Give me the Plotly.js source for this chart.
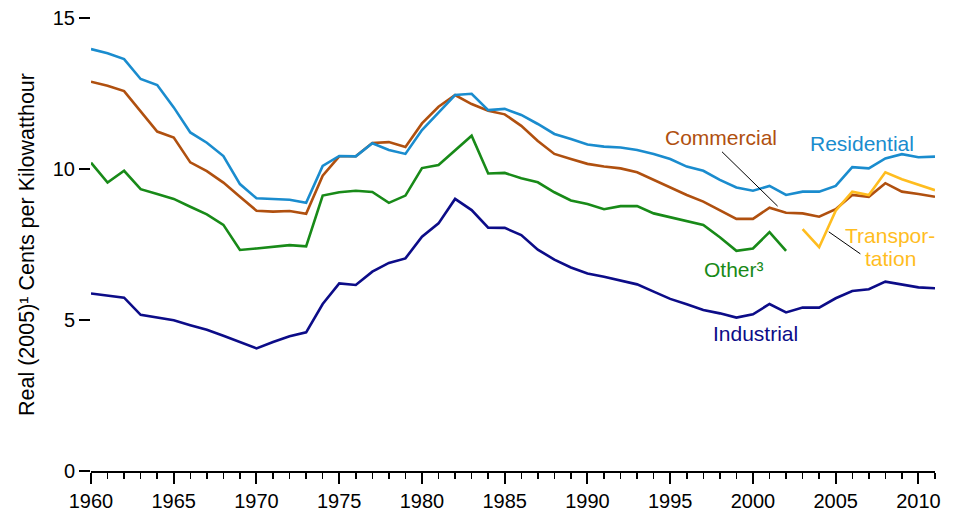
<!DOCTYPE html>
<html>
<head>
<meta charset="utf-8">
<script src="https://cdn.plot.ly/plotly-3.0.1.min.js"></script>
<style>html,body{margin:0;padding:0;background:#fff;}#chart{width:961px;height:513px;}</style>
</head>
<body>
<div id="chart"></div>
<script>
// Years
const years = [];
for (let y = 1960; y <= 2011; y++) years.push(y);

const residential = [13.97,13.83,13.64,12.98,12.78,12.04,11.21,10.87,10.43,9.50,
  9.03,9.00,8.98,8.88,10.10,10.43,10.42,10.85,10.63,10.50,
  11.29,11.87,12.45,12.49,11.95,11.99,11.79,11.49,11.16,10.99,
  10.81,10.74,10.71,10.63,10.50,10.33,10.08,9.94,9.64,9.39,
  9.28,9.44,9.14,9.25,9.25,9.44,10.06,10.02,10.35,10.49,10.39,10.41];

const commercial = [12.89,12.76,12.58,11.92,11.24,11.04,10.22,9.93,9.55,9.08,
  8.62,8.59,8.61,8.52,9.78,10.42,10.42,10.86,10.89,10.73,
  11.51,12.06,12.45,12.15,11.93,11.81,11.43,10.93,10.50,10.33,
  10.17,10.08,10.02,9.89,9.64,9.38,9.14,8.92,8.64,8.35,
  8.35,8.72,8.55,8.53,8.42,8.67,9.14,9.08,9.53,9.25,9.17,9.08];

const other = [10.21,9.55,9.94,9.33,9.17,9.01,8.75,8.50,8.15,7.32,
  7.37,7.42,7.48,7.44,9.12,9.23,9.28,9.24,8.88,9.12,
  10.03,10.13,10.63,11.10,9.85,9.87,9.69,9.56,9.23,8.96,
  8.84,8.67,8.77,8.77,8.53,8.40,8.28,8.15,7.74,7.29,
  7.37,7.91,7.29,null,null,null,null,null,null,null,null,null];

const industrial = [5.88,5.82,5.74,5.17,5.08,4.99,4.83,4.68,4.48,4.27,
  4.06,4.27,4.46,4.59,5.53,6.21,6.16,6.60,6.89,7.04,
  7.76,8.20,9.01,8.64,8.06,8.05,7.81,7.33,7.00,6.74,
  6.54,6.43,6.30,6.18,5.94,5.70,5.52,5.33,5.22,5.08,
  5.19,5.53,5.25,5.41,5.41,5.72,5.96,6.02,6.27,6.18,6.08,6.05];

const transportation = [null,null,null,null,null,null,null,null,null,null,
  null,null,null,null,null,null,null,null,null,null,
  null,null,null,null,null,null,null,null,null,null,
  null,null,null,null,null,null,null,null,null,null,
  null,null,null,8.01,7.41,8.62,9.25,9.14,9.89,9.66,9.49,9.30];

const colors = {
  Residential: "#1a8cce",
  Commercial: "#b0500f",
  Other: "#188a18",
  Industrial: "#0c0c88",
  Transportation: "#ffbd1f"
};

const font = "Liberation Sans, Arial, Helvetica, sans-serif";

function tr(y, name, color) {
  return {x: years, y: y, name: name, type: "scatter", mode: "lines",
    line: {color: color, width: 2.6}, connectgaps: false, hoverinfo: "x+y"};
}

const data = [
  tr(industrial, "Industrial", colors.Industrial),
  tr(other, "Other³", colors.Other),
  tr(commercial, "Commercial", colors.Commercial),
  tr(residential, "Residential", colors.Residential),
  tr(transportation, "Transportation", colors.Transportation)
];

const annFont = (c) => ({family: font, size: 21, color: c});

const layout = {
  width: 961, height: 513,
  margin: {l: 91, r: 26, t: 18, b: 42},
  paper_bgcolor: "#fff", plot_bgcolor: "#fff",
  showlegend: false,
  font: {family: font, size: 20, color: "#000"},
  xaxis: {
    range: [1960, 2011], showgrid: false, zeroline: false,
    showline: true, linecolor: "#000", linewidth: 2,
    ticks: "outside", ticklen: 11, tickwidth: 2, tickcolor: "#000",
    tick0: 1960, dtick: 5,
    minor: {dtick: 1, ticks: "outside", ticklen: 6, tickwidth: 1.5, tickcolor: "#000", showgrid: false},
    tickfont: {family: font, size: 20, color: "#000"}
  },
  yaxis: {
    range: [0, 15], showgrid: false, zeroline: false, showline: false,
    ticks: "outside", ticklen: 11, tickwidth: 2, tickcolor: "#000",
    tickvals: [0, 5, 10, 15], ticktext: ["0", "5", "10", "15"],
    tickfont: {family: font, size: 20, color: "#000"},
    title: {text: "Real (2005)¹ Cents per Kilowatthour", font: {family: font, size: 21.5, color: "#000"}, standoff: 12}
  },
  annotations: [
    {x: 2006.58, y: 10.83, text: "Residential", showarrow: false, font: annFont(colors.Residential)},
    {x: 1998.09, y: 11.03, text: "Commercial", showarrow: false, font: annFont(colors.Commercial)},
    {x: 1998.88, y: 6.66, text: "Other³", showarrow: false, font: annFont(colors.Other)},
    {x: 2000.15, y: 4.54, text: "Industrial", showarrow: false, font: annFont(colors.Industrial)},
    {x: 2008.3, y: 7.8, text: "Transpor-", showarrow: false, font: annFont(colors.Transportation)},
    {x: 2008.3, y: 7.05, text: "tation", showarrow: false, font: annFont(colors.Transportation)}
  ],
  shapes: [
    {type: "line", xref: "x", yref: "y", x0: 1998.13, y0: 10.57, x1: 2001.49, y1: 8.77, line: {color: "#000", width: 1}},
    {type: "line", xref: "x", yref: "y", x0: 2004.58, y0: 7.92, x1: 2006.49, y1: 7.19, line: {color: "#000", width: 1}}
  ]
};

Plotly.newPlot("chart", data, layout, {displayModeBar: false, staticPlot: true});
</script>
</body>
</html>
